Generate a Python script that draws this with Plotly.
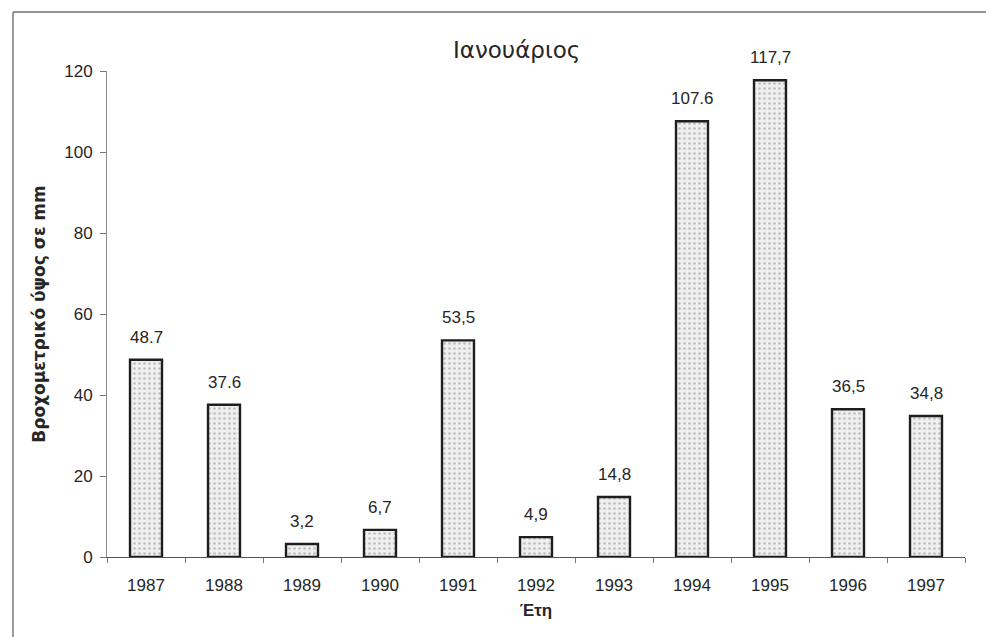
import plotly.graph_objects as go

# January rainfall per year (mm)
years = ["1987", "1988", "1989", "1990", "1991", "1992", "1993", "1994", "1995", "1996", "1997"]
rainfall = [48.7, 37.6, 3.2, 6.7, 53.5, 4.9, 14.8, 107.6, 117.7, 36.5, 34.8]
value_labels = ["48.7", "37.6", "3,2", "6,7", "53,5", "4,9", "14,8", "107.6", "117,7", "36,5", "34,8"]
y_ticks = [0, 20, 40, 60, 80, 100, 120]

W, H = 986, 637
L, R, T, B = 107, 21, 71, 80

pos = list(range(len(years)))
TXT = "#262626"

fig = go.Figure()
fig.add_trace(go.Bar(
    x=pos,
    y=rainfall,
    width=0.41,
    marker=dict(
        color="#ededed",
        line=dict(color="#1e1e1e", width=2.4),
        pattern=dict(shape=".", fgcolor="#8a8a8a", bgcolor="#efefef", size=5, solidity=0.2),
    ),
    cliponaxis=False,
    hoverinfo="skip",
))

for p, v, lab in zip(pos, rainfall, value_labels):
    fig.add_annotation(
        x=p, y=v, text=lab, showarrow=False,
        yanchor="bottom", yshift=11,
        font=dict(family="Liberation Sans, Arial, sans-serif", size=17, color=TXT),
    )

pw, ph = W - L - R, H - T - B

# Chart title
fig.add_annotation(
    xref="paper", yref="paper",
    x=(516 - L) / pw, y=(H - 50 - B) / ph,
    text="Ιανουάριος", showarrow=False, xanchor="center", yanchor="middle",
    font=dict(family="DejaVu Sans, sans-serif", size=23, color=TXT),
)

# Outer frame (top and left edges)
fig.add_shape(type="line", xref="paper", yref="paper",
              x0=(13 - L) / pw, x1=(W - L) / pw,
              y0=(H - 12 - B) / ph, y1=(H - 12 - B) / ph,
              line=dict(color="#6f6f6f", width=1.5))
fig.add_shape(type="line", xref="paper", yref="paper",
              x0=(13 - L) / pw, x1=(13 - L) / pw,
              y0=(H - 12 - B) / ph, y1=-B / ph,
              line=dict(color="#7a7a7a", width=1.5))

fig.update_layout(
    width=W, height=H,
    margin=dict(l=L, r=R, t=T, b=B),
    paper_bgcolor="white",
    plot_bgcolor="white",
    showlegend=False,
    font=dict(family="Liberation Sans, Arial, sans-serif", size=17, color=TXT),
    xaxis=dict(
        range=[-0.5, len(years) - 0.5],
        tickvals=pos, ticktext=years,
        showgrid=False, zeroline=False,
        showline=True, linecolor="#555555", linewidth=1.2,
        ticks="", ticklen=0,
        ticklabelstandoff=12,
        minor=dict(tick0=-0.5, dtick=1, ticks="outside", ticklen=5, tickcolor="#777777", showgrid=False),
        tickfont=dict(size=17, color=TXT),
        title=dict(text="<b>Έτη</b>", font=dict(family="Liberation Sans, Arial, sans-serif", size=17, color=TXT), standoff=10),
    ),
    yaxis=dict(
        range=[0, 120],
        tickvals=y_ticks,
        showgrid=False, zeroline=False,
        showline=True, linecolor="#8a8a8a", linewidth=1,
        ticks="outside", ticklen=6, tickcolor="#777777",
        ticklabelstandoff=4,
        tickfont=dict(size=17, color=TXT),
        title=dict(text="<b>Βροχομετρικό ύψος σε mm</b>",
                   font=dict(family="DejaVu Sans, sans-serif", size=17, color=TXT), standoff=14),
    ),
)

fig.write_html("out.html")
